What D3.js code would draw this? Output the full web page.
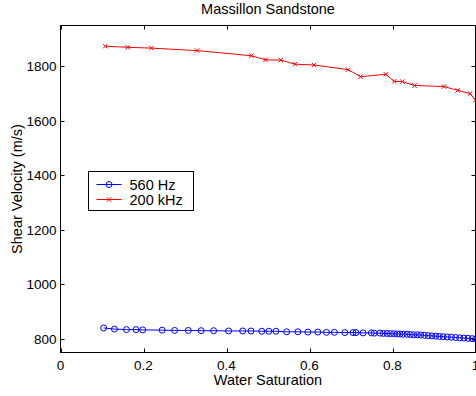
<!DOCTYPE html>
<html>
<head>
<meta charset="utf-8">
<script src="https://cdn.jsdelivr.net/npm/d3@7"></script>
<style>
  html, body { margin: 0; padding: 0; background: #fff; }
  svg { display: block; font-family: "Liberation Sans", Arial, Helvetica, sans-serif; }
</style>
</head>
<body>
<div id="chart"></div>
<script>
// Massillon Sandstone : vitesse de cisaillement vs saturation en eau

const title = "Massillon Sandstone"
const xLabel = "Water Saturation"
const yLabel = "Shear Velocity (m/s)"
const xTicks = [0, 0.2, 0.4, 0.6, 0.8, 1]
const yTicks = [800, 1000, 1200, 1400, 1600, 1800]

// 560 Hz (bleu, cercles)
const lowSw = [0.104, 0.130, 0.159, 0.182, 0.198, 0.245, 0.275, 0.308, 0.339, 0.369,
  0.405, 0.439, 0.459, 0.485, 0.502, 0.519, 0.545, 0.572, 0.596, 0.620,
  0.641, 0.660, 0.685, 0.705, 0.712, 0.729, 0.749, 0.756, 0.770, 0.778,
  0.787, 0.795, 0.803, 0.811, 0.818, 0.826, 0.835, 0.843, 0.851, 0.860,
  0.868, 0.877, 0.886, 0.895, 0.904, 0.913, 0.922, 0.932, 0.942, 0.952,
  0.962, 0.972, 0.982, 0.992, 1.0]
const lowVel = [840, 836, 834, 834, 833, 832, 831, 831, 830, 830,
  829, 829, 829, 828, 828, 828, 826, 826, 825, 825,
  824, 824, 823, 823, 823, 822, 822, 821, 821, 820,
  820, 819, 819, 818, 818, 817, 817, 816, 815, 815,
  814, 813, 812, 811, 810, 809, 808, 807, 806, 805,
  804, 803, 802, 801, 800]

// 200 kHz (rouge, croix)
const highSw = [0.108, 0.162, 0.219, 0.329, 0.460, 0.494, 0.531, 0.565, 0.611, 0.693,
  0.723, 0.784, 0.804, 0.824, 0.853, 0.924, 0.957, 0.987, 1.0]
const highVel = [1874, 1870, 1867, 1858, 1839, 1824, 1823, 1808, 1805, 1788,
  1762, 1771, 1745, 1744, 1730, 1726, 1712, 1700, 1676]

const W = 476, H = 396
const pL = 60.5, pR = 475.5, pT = 25.5, pB = 352.5

const svg = d3.select("#chart").append("svg")
  .attr("width", W).attr("height", H)

const x = d3.scaleLinear().domain([0, 1]).range([pL, pR])
const y = d3.scaleLinear().domain([750, 1950]).range([pB, pT])

svg.append("clipPath").attr("id", "plot")
  .append("rect").attr("x", pL).attr("y", pT)
  .attr("width", pR - pL).attr("height", pB - pT)

// --- Séries ---
const lowData = lowSw.map((s, i) => [s, lowVel[i]])
const highData = highSw.map((s, i) => [s, highVel[i]])
const line = d3.line().x(d => x(d[0])).y(d => y(d[1]))

const plot = svg.append("g").attr("clip-path", "url(#plot)")

plot.append("path").datum(lowData)
  .attr("d", line).attr("fill", "none").attr("stroke", "#0000ff").attr("stroke-width", 1)
plot.selectAll("circle.low").data(lowData).join("circle")
  .attr("class", "low")
  .attr("cx", d => x(d[0])).attr("cy", d => y(d[1])).attr("r", 3)
  .attr("fill", "none").attr("stroke", "#0000ff").attr("stroke-width", 1)

plot.append("path").datum(highData)
  .attr("d", line).attr("fill", "none").attr("stroke", "#ff0000").attr("stroke-width", 1)
const cross = (cx, cy, r) => `M${cx - r},${cy - r}L${cx + r},${cy + r}M${cx - r},${cy + r}L${cx + r},${cy - r}`
plot.selectAll("path.high").data(highData).join("path")
  .attr("class", "high")
  .attr("d", d => cross(x(d[0]), y(d[1]), 2.2))
  .attr("stroke", "#ff0000").attr("stroke-width", 1)

// --- Axes (ticks vers l'intérieur, sur les 4 côtés) ---
const tickLen = 4
const axes = svg.append("g").attr("stroke", "#000").attr("stroke-width", 1)
axes.append("rect")
  .attr("x", pL).attr("y", pT).attr("width", pR - pL).attr("height", pB - pT)
  .attr("fill", "none")
xTicks.forEach(t => {
  const px = Math.round(x(t)) + 0.5
  axes.append("line").attr("x1", px).attr("x2", px).attr("y1", pB).attr("y2", pB - tickLen)
  axes.append("line").attr("x1", px).attr("x2", px).attr("y1", pT).attr("y2", pT + tickLen)
})
yTicks.forEach(t => {
  const py = Math.round(y(t)) + 0.5
  axes.append("line").attr("x1", pL).attr("x2", pL + tickLen).attr("y1", py).attr("y2", py)
  axes.append("line").attr("x1", pR).attr("x2", pR - tickLen).attr("y1", py).attr("y2", py)
})

const fsTick = 13.5, fs = 14.5
svg.selectAll("text.xt").data(xTicks).join("text")
  .attr("class", "xt")
  .attr("x", d => x(d)).attr("y", pB + 17)
  .attr("text-anchor", "middle").attr("font-size", fsTick)
  .text(d => d3.format("")(d))
svg.selectAll("text.yt").data(yTicks).join("text")
  .attr("class", "yt")
  .attr("x", pL - 4).attr("y", d => y(d) + 5)
  .attr("text-anchor", "end").attr("font-size", fsTick)
  .text(d => d)

svg.append("text")
  .attr("x", (pL + pR) / 2).attr("y", 385)
  .attr("text-anchor", "middle").attr("font-size", fs)
  .text(xLabel)
svg.append("text")
  .attr("transform", `translate(21.5,${(pT + pB) / 2}) rotate(-90)`)
  .attr("text-anchor", "middle").attr("font-size", fs)
  .text(yLabel)
svg.append("text")
  .attr("x", (pL + pR) / 2).attr("y", 13.5)
  .attr("text-anchor", "middle").attr("font-size", fs)
  .text(title)

// --- Légende ---
const lg = svg.append("g").attr("transform", "translate(88.5,171.5)")
lg.append("rect").attr("width", 105).attr("height", 39)
  .attr("fill", "#fff").attr("stroke", "#000").attr("stroke-width", 1)
const items = [
  { label: "560 Hz", color: "#0000ff", marker: "o" },
  { label: "200 kHz", color: "#ff0000", marker: "x" },
]
items.forEach((it, i) => {
  const cy = 13 + i * 15
  lg.append("line").attr("x1", 8).attr("x2", 33).attr("y1", cy).attr("y2", cy)
    .attr("stroke", it.color).attr("stroke-width", 1)
  if (it.marker === "o") {
    lg.append("circle").attr("cx", 20.5).attr("cy", cy).attr("r", 3)
      .attr("fill", "none").attr("stroke", it.color)
  } else {
    lg.append("path").attr("d", cross(20.5, cy, 2.2)).attr("stroke", it.color)
  }
  lg.append("text").attr("x", 41).attr("y", cy + 5)
    .attr("font-size", fs).text(it.label)
})
</script>
</body>
</html>
